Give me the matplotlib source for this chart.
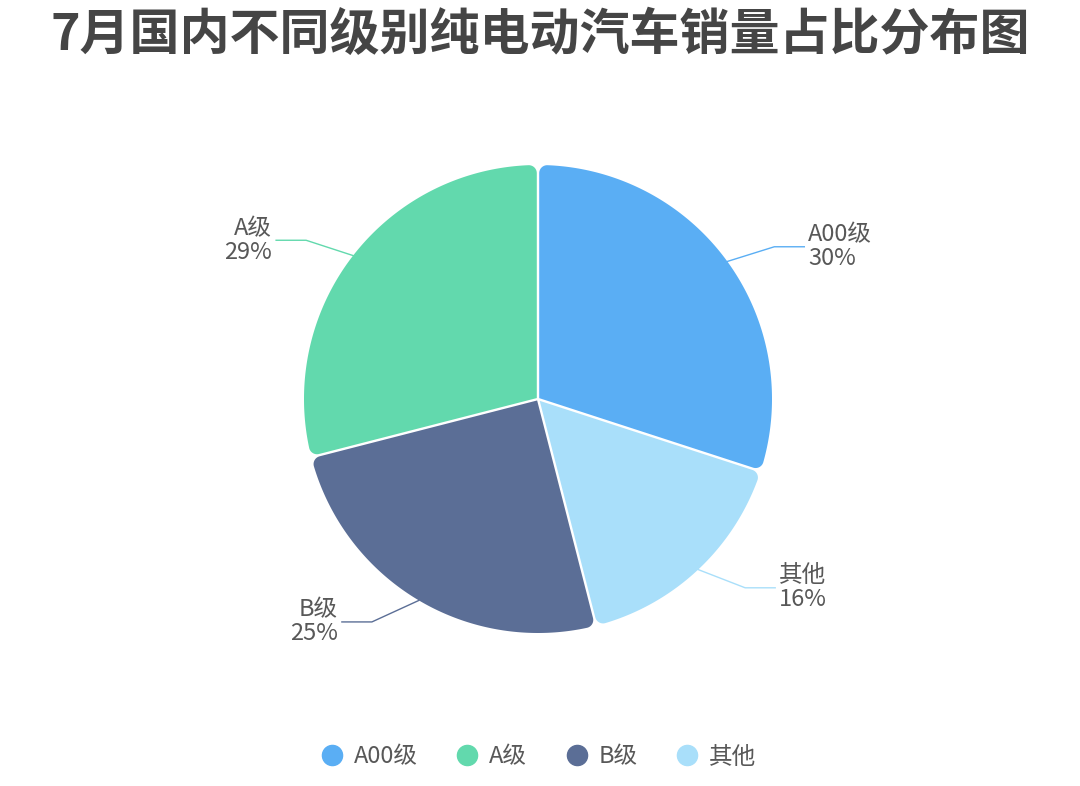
import numpy as np
import matplotlib
matplotlib.use('Agg')
import matplotlib.pyplot as plt
from matplotlib.patches import Polygon
from matplotlib.lines import Line2D

plt.rcParams['font.family'] = ['Noto Sans CJK SC', 'DejaVu Sans']

title = '7月国内不同级别纯电动汽车销量占比分布图'
# clockwise from 12 o'clock
slice_names = ['A00级', '其他', 'B级', 'A级']
slice_pct = [30, 16, 25, 29]
slice_colors = ['#5aaef4', '#a9dffa', '#5b6e96', '#62d9ad']
legend_names = ['A00级', 'A级', 'B级', '其他']
legend_colors = ['#5aaef4', '#62d9ad', '#5b6e96', '#a9dffa']

W, H = 1080, 786
fig = plt.figure(figsize=(W / 100, H / 100), dpi=100)
ax = fig.add_axes([0, 0, 1, 1])
ax.set_xlim(0, W)
ax.set_ylim(0, H)
ax.axis('off')

cx, cy, R = 538, H - 399, 234
gap = 1.2   # half of the white gap between slices
rr = 8      # corner rounding


def rounded_wedge(a1, a2):
    # a1 < a2, radians, counterclockwise
    half = (a2 - a1) / 2
    mid = (a1 + a2) / 2
    c = np.array([cx, cy])
    u = lambda a: np.array([np.cos(a), np.sin(a)])
    n = lambda a: np.array([-np.sin(a), np.cos(a)])
    s = gap + rr
    ro = R - rr
    t = np.sqrt(ro ** 2 - s ** 2)
    off = np.arcsin(s / ro)
    apex = c + gap / np.sin(half) * u(mid)
    c1 = c + t * u(a1) + s * n(a1)
    c2 = c + t * u(a2) - s * n(a2)
    pts = [apex]
    for a in np.linspace(a1 - np.pi / 2, a1 + off, 20):
        pts.append(c1 + rr * u(a))
    for a in np.linspace(a1 + off, a2 - off, 200):
        pts.append(c + R * u(a))
    for a in np.linspace(a2 - off, a2 + np.pi / 2, 20):
        pts.append(c2 + rr * u(a))
    return np.array(pts)


cum = np.concatenate([[0], np.cumsum(slice_pct)]) / np.sum(slice_pct)
for i, (name, pct, col) in enumerate(zip(slice_names, slice_pct, slice_colors)):
    start = np.pi / 2 - 2 * np.pi * cum[i]
    end = np.pi / 2 - 2 * np.pi * cum[i + 1]
    ax.add_patch(Polygon(rounded_wedge(end, start), closed=True,
                         facecolor=col, edgecolor='none'))

    m = (start + end) / 2
    sgn = 1 if np.cos(m) >= 0 else -1
    p = np.array([cx + R * np.cos(m), cy + R * np.sin(m)])
    q = p + np.array([47 * sgn, 25 * np.sin(m)])
    q2 = q + np.array([30 * sgn, 0])
    ax.plot([p[0], q[0], q2[0]], [p[1], q[1], q2[1]], color=col, lw=1.0,
            solid_joinstyle='round')
    ax.text(q2[0] + 4 * sgn, q2[1], f'{name}\n{pct}%',
            ha='left' if sgn > 0 else 'right', va='center',
            fontsize=17, color='#585858', linespacing=1.05)

fig.text(0.5, 1 - 35 / H, title, ha='center', va='center',
         fontsize=36, fontweight='bold', color='#454545')

handles = [Line2D([], [], marker='o', ls='', color=c, markersize=14.5)
           for c in legend_colors]
fig.legend(handles, legend_names, ncol=4, loc='center',
           bbox_to_anchor=(538 / W, 1 - 757 / H), frameon=False,
           fontsize=17, labelcolor='#585858', handletextpad=0.42,
           columnspacing=1.6, handlelength=1.0)

fig.savefig('out.png', dpi=100)
